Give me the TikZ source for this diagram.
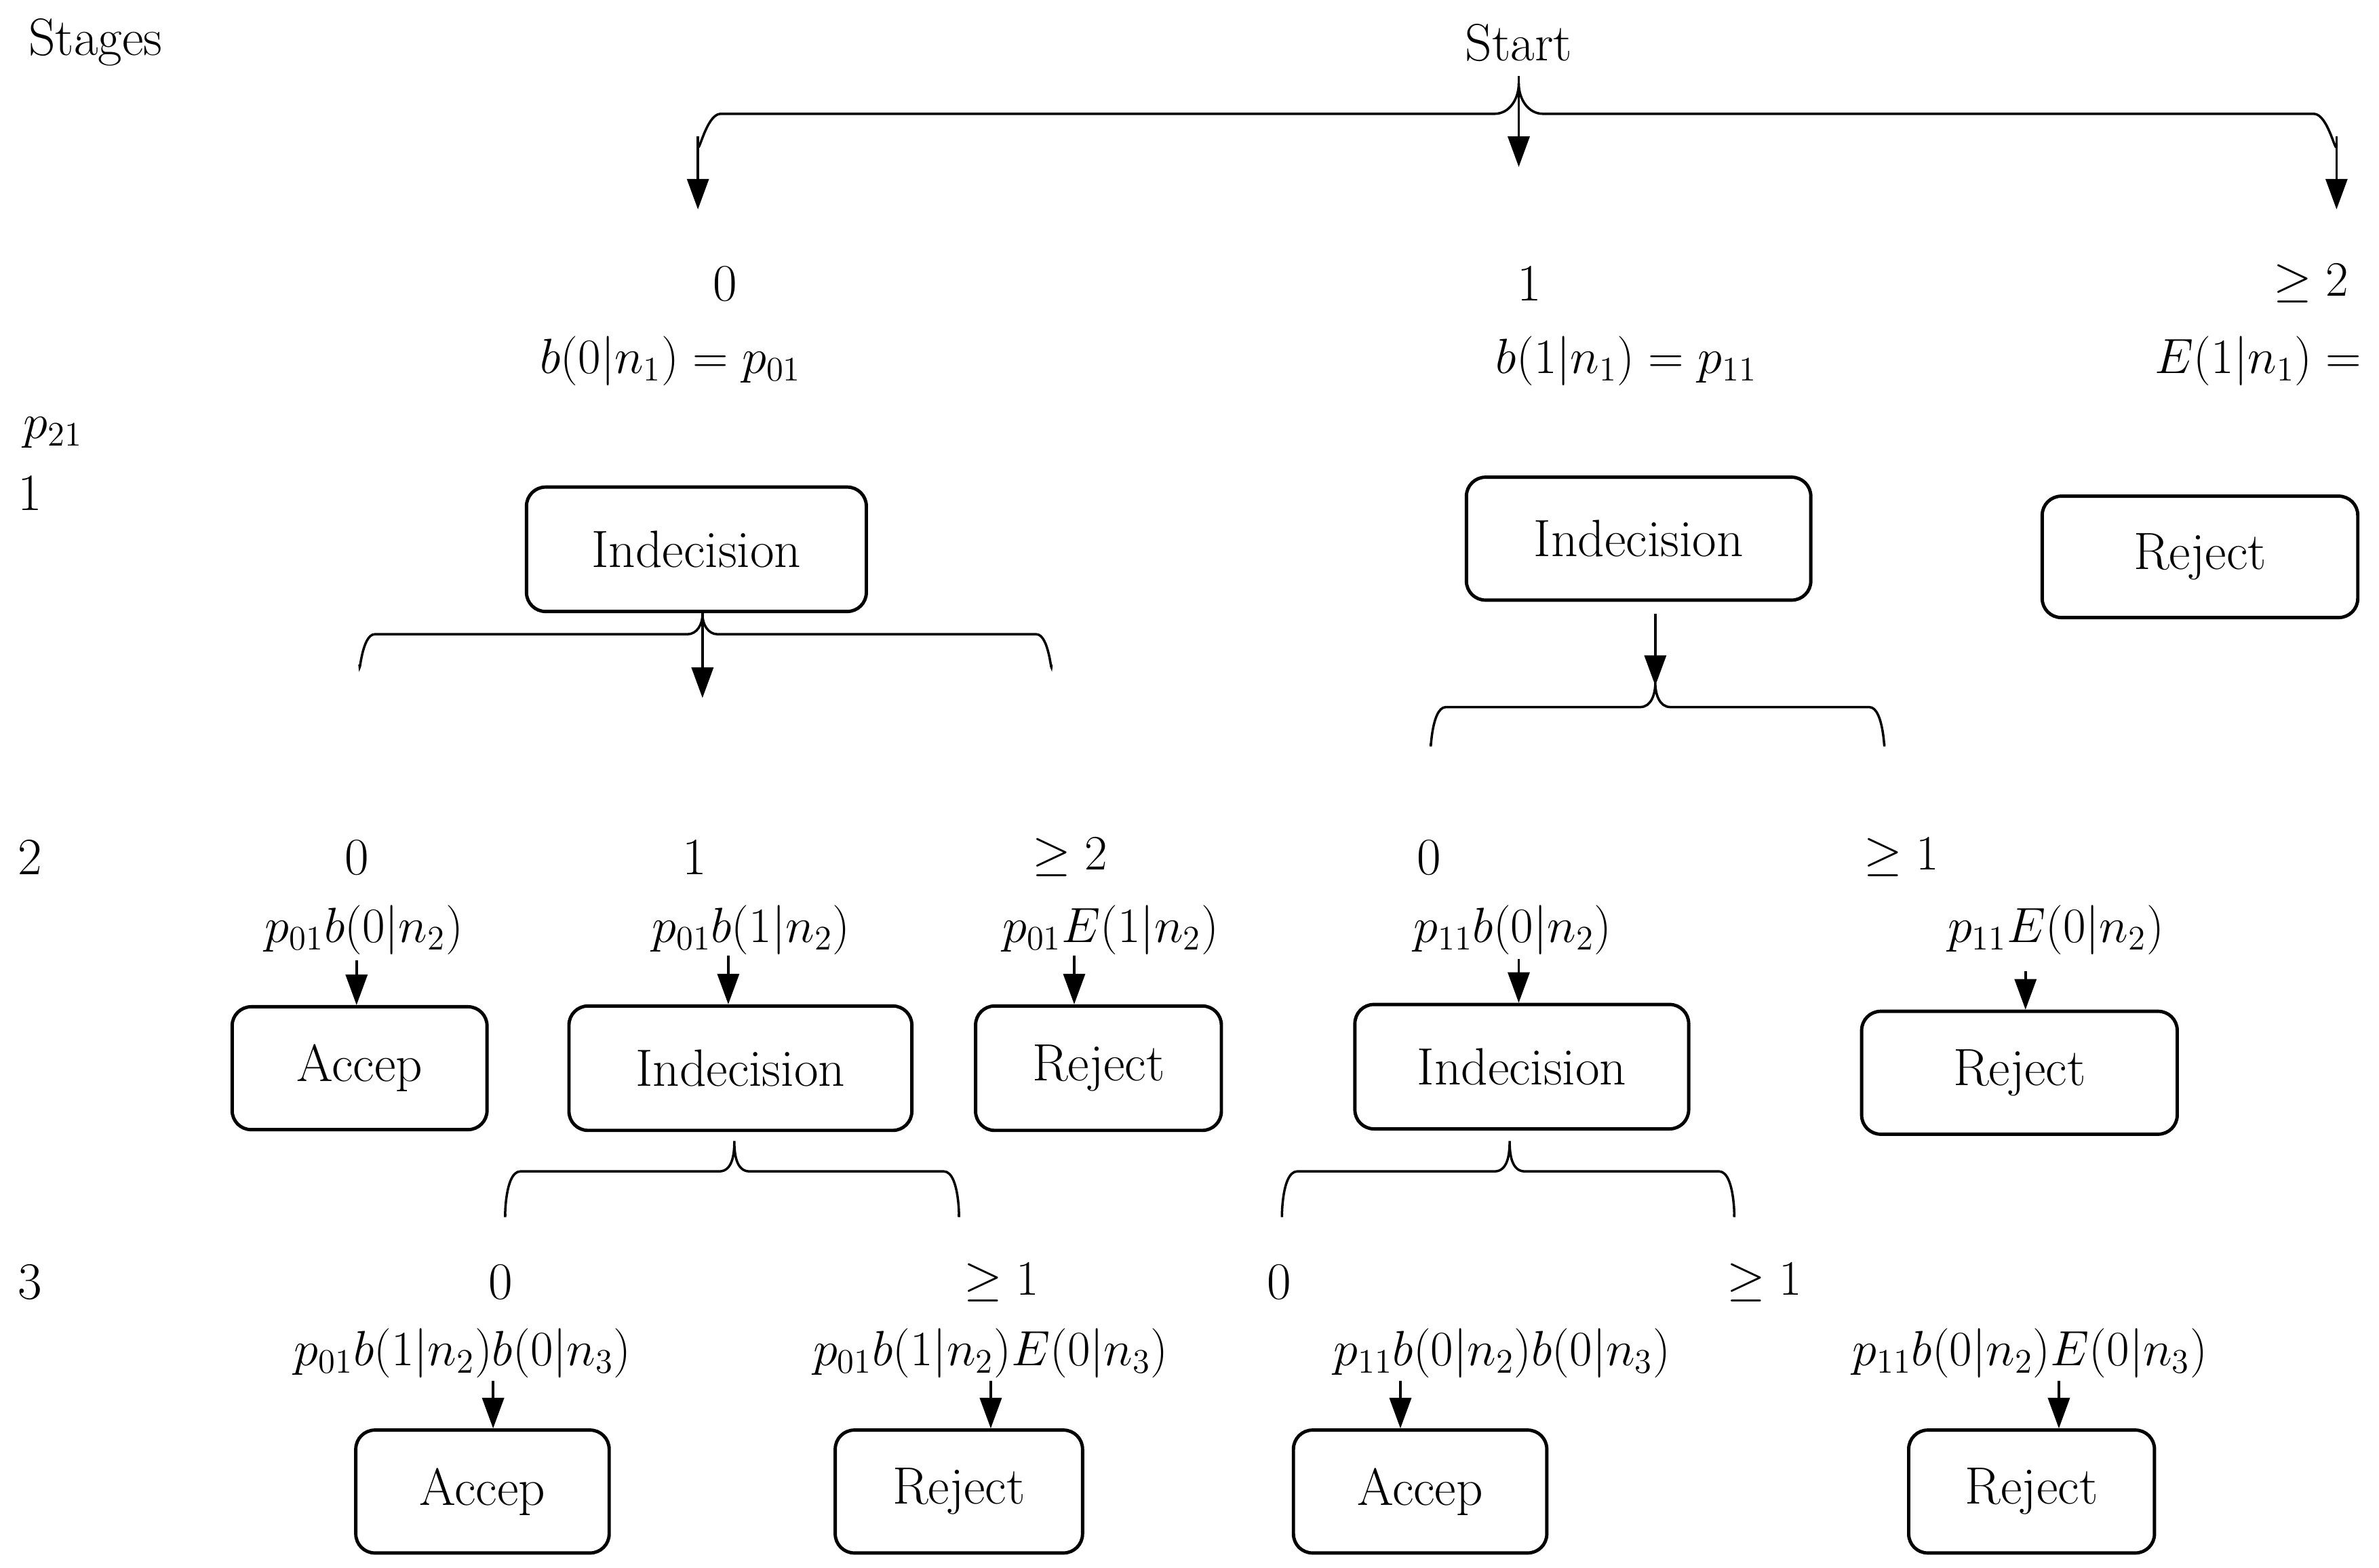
\documentclass[tikz,border=0pt]{standalone}
\usetikzlibrary{arrows.meta}
\begin{document}
\begin{tikzpicture}[x=0.02237cm,y=-0.02237cm,
  every node/.style={font=\fontsize{22}{26}\selectfont},
  box/.style={draw,line width=1.4pt,rounded corners=8pt,inner sep=0pt},
  arr/.style={line width=1pt,-{Triangle[length=0.45cm,width=0.32cm]}},
  br/.style={line width=1pt}]
\useasboundingbox (0,0) rectangle (1568,1033);
% texts
\node (stages) at (63,28) {Stages};
\node (start) at (1001,28) {Start};
\node (l0) at (478,187) {0};
\node (m0) at (442,238) {$b(0|n_1)=p_{01}$};
\node (l1) at (1008,187) {1};
\node (m1) at (1072,238) {$b(1|n_1)=p_{11}$};
\node (l2) at (1523,187) {$\geq 2$};
\node[anchor=east] (m2) at (1562,238) {$E(1|n_1) =$};
\node (p21) at (35,285) {$p_{21}$};
\node (s1) at (20,325) {1};
\node (s2) at (20,565) {2};
\node (s3) at (20,845) {3};
% stage 1 boxes
\node[box,minimum width=224*0.02237cm,minimum height=82*0.02237cm] (i1) at (459,362) {Indecision};
\node[box,minimum width=227*0.02237cm,minimum height=81*0.02237cm] (i2) at (1080,355) {Indecision};
\node[box,minimum width=208*0.02237cm,minimum height=80*0.02237cm] (r1) at (1450,367) {Reject};
% stage 2 labels
\node at (235,565) {0}; \node (a0) at (240,613) {$p_{01}b(0|n_2)$};
\node at (458,565) {1}; \node (a1) at (495,613) {$p_{01}b(1|n_2)$};
\node at (705,565) {$\geq 2$}; \node (a2) at (732,613) {$p_{01}E(1|n_2)$};
\node at (942,565) {0}; \node (a3) at (997,613) {$p_{11}b(0|n_2)$};
\node at (1253,565) {$\geq 1$}; \node (a4) at (1355,613) {$p_{11}E(0|n_2)$};
% stage 2 boxes
\node[box,minimum width=168*0.02237cm,minimum height=81*0.02237cm] (acc1) at (237,704) {Accep};
\node[box,minimum width=226*0.02237cm,minimum height=82*0.02237cm] (i3) at (488,704) {Indecision};
\node[box,minimum width=162*0.02237cm,minimum height=82*0.02237cm] (r2) at (724,704) {Reject};
\node[box,minimum width=220*0.02237cm,minimum height=82*0.02237cm] (i4) at (1003,703) {Indecision};
\node[box,minimum width=208*0.02237cm,minimum height=81*0.02237cm] (r3) at (1331,707) {Reject};
% stage 3 labels
\node at (330,845) {0}; \node (c0) at (305,892) {$p_{01}b(1|n_2)b(0|n_3)$};
\node at (660,845) {$\geq 1$}; \node (c1) at (653,892) {$p_{01}b(1|n_2)E(0|n_3)$};
\node at (843,845) {0}; \node (c2) at (990,892) {$p_{11}b(0|n_2)b(0|n_3)$};
\node at (1163,845) {$\geq 1$}; \node (c3) at (1338,892) {$p_{11}b(0|n_2)E(0|n_3)$};
% stage 3 boxes
\node[box,minimum width=167*0.02237cm,minimum height=81*0.02237cm] (acc2) at (318,983) {Accep};
\node[box,minimum width=163*0.02237cm,minimum height=81*0.02237cm] (r4) at (632,983) {Reject};
\node[box,minimum width=167*0.02237cm,minimum height=81*0.02237cm] (acc3) at (936,983) {Accep};
\node[box,minimum width=162*0.02237cm,minimum height=81*0.02237cm] (r5) at (1339,983) {Reject};
% top brace
\draw[br] (460,95) to[out=-90,in=180] (475,75) -- (985,75) to[out=0,in=-90] (1001,55)
  (1001,55) to[out=-90,in=180] (1017,75) -- (1525,75) to[out=0,in=-90] (1540,95);
\draw[arr] (460,90) -- (460,138);
\draw[arr] (1540,90) -- (1540,138);
\draw[arr] (1001,50) -- (1001,110);
% stage 1 braces
\draw[br] (237,438) to[out=-90,in=180] (247,418) -- (453,418) to[out=0,in=-90] (463,405)
  (463,405) to[out=-90,in=180] (473,418) -- (683,418) to[out=0,in=-90] (693,438);
\draw[arr] (i1.south -| 463,0) -- (463,460);
\draw[arr] (i2.south -| 1091,0) ++(0,8) -- (1091,452);
\draw[br] (943,490) to[out=-90,in=180] (953,466) -- (1081,466) to[out=0,in=-90] (1091,450)
  (1091,450) to[out=-90,in=180] (1101,466) -- (1232,466) to[out=0,in=-90] (1242,490);
% stage 2 arrows
\draw[arr] (235,633) -- (acc1.north -| 235,0);
\draw[arr] (480,630) -- (i3.north -| 480,0);
\draw[arr] (708,630) -- (r2.north -| 708,0);
\draw[arr] (1001,632) -- (i4.north -| 1001,0);
\draw[arr] (1335,640) -- (r3.north -| 1335,0);
% stage 2 braces
\draw[br] (333,800) to[out=-90,in=180] (343,772) -- (474,772) to[out=0,in=-90] (484,752)
  (484,752) to[out=-90,in=180] (494,772) -- (622,772) to[out=0,in=-90] (632,800);
\draw[br] (845,800) to[out=-90,in=180] (855,772) -- (985,772) to[out=0,in=-90] (995,752)
  (995,752) to[out=-90,in=180] (1005,772) -- (1133,772) to[out=0,in=-90] (1143,800);
% stage 3 arrows
\draw[arr] (325,910) -- (acc2.north -| 325,0);
\draw[arr] (653,910) -- (r4.north -| 653,0);
\draw[arr] (923,910) -- (acc3.north -| 923,0);
\draw[arr] (1357,910) -- (r5.north -| 1357,0);
\end{tikzpicture}
\end{document}
